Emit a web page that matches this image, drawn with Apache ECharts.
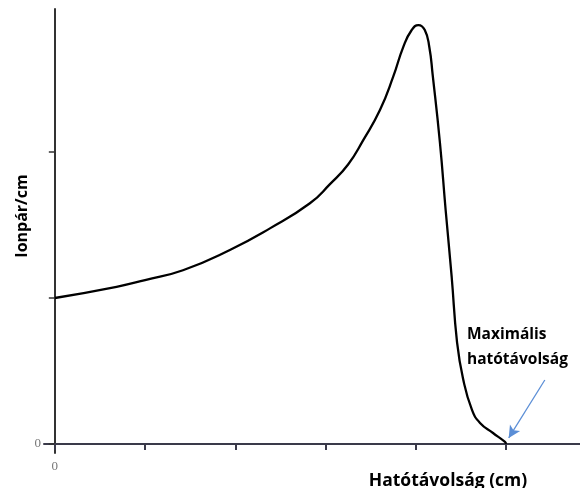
<!DOCTYPE html>
<html>
<head>
<meta charset="utf-8">
<script src="https://cdn.jsdelivr.net/npm/echarts@6/dist/echarts.min.js"></script>
<style>html,body{margin:0;padding:0;background:#fff}#c{width:580px;height:488px}</style>
</head>
<body>
<div id="c"></div>
<script>
// Bragg curve: [distance, ion pairs per cm]
const distance = [0, 0.684, 1.0, 1.42, 1.94, 2.384, 2.827, 3.049, 3.25, 3.418, 3.603, 3.75, 3.862, 3.955, 4.03, 4.10, 4.15, 4.187, 4.268, 4.331, 4.398, 4.457, 4.523, 4.623, 4.712, 4.856, 4.989, 5.0];
const ionPairs = [1.0, 1.077, 1.123, 1.19, 1.329, 1.477, 1.649, 1.78, 1.915, 2.082, 2.288, 2.516, 2.721, 2.836, 2.870, 2.836, 2.72, 2.53, 2.062, 1.603, 1.144, 0.70, 0.45, 0.233, 0.144, 0.075, 0.014, 0.0];
const xTicks = [0, 1, 2, 3, 4, 5];
const yTicks = [0, 1, 2];
const tickLabels = [0];
const arrowFrom = [5.43, 0.438];
const arrowTo = [5.03, 0.041];

const curve = distance.map((d, i) => [d, ionPairs[i]]);

const chart = echarts.init(document.getElementById('c'));
chart.setOption({
  animation: false,
  grid: { left: 44, right: 0, top: 9, bottom: 35, containLabel: false, outerBoundsMode: 'none' },
  xAxis: {
    type: 'value', min: -0.12, max: 5.82,
    name: 'Hatótávolság (cm)', nameLocation: 'middle', nameGap: 19, nameMoveOverlap: false,
    nameTextStyle: { fontFamily: 'Open Sans', fontWeight: 'bold', fontSize: 17.5, color: '#000', padding: [0, 0, 0, 272] },
    axisLine: { onZero: true, lineStyle: { color: '#3a3a4a', width: 2 } },
    axisTick: { show: true, customValues: xTicks, length: 6, inside: false, lineStyle: { color: '#3a3a4a', width: 2 } },
    axisLabel: { customValues: tickLabels, margin: 7, fontFamily: 'Liberation Serif', fontSize: 13, color: '#777' },
    splitLine: { show: false }
  },
  yAxis: {
    type: 'value', min: -0.062, max: 2.98,
    name: 'Ionpár/cm', nameLocation: 'middle', nameGap: 14, nameRotate: 90, nameMoveOverlap: false,
    nameTextStyle: { fontFamily: 'Open Sans', fontWeight: 'bold', fontSize: 16, color: '#000', padding: [0, 0, 0, 30] },
    axisLine: { onZero: true, lineStyle: { color: '#333', width: 2 } },
    axisTick: { show: true, customValues: yTicks, length: 6, lineStyle: { color: '#333', width: 1.5 } },
    axisLabel: { customValues: tickLabels, margin: 3, fontFamily: 'Liberation Serif', fontSize: 13, color: '#777' },
    splitLine: { show: false }
  },
  graphic: [{
    type: 'text', left: 467, top: 322,
    style: { text: 'Maximális\nhatótávolság', fontFamily: 'Open Sans', fontWeight: 'bold', fontSize: 15.5, lineHeight: 25, fill: '#000' }
  }],
  series: [{
    type: 'line', data: curve, smooth: 0.5, symbol: 'none',
    lineStyle: { color: '#000', width: 2.3 },
    markLine: {
      silent: true, symbol: ['none', 'arrow'], symbolSize: [9, 12],
      label: { show: false },
      lineStyle: { color: '#5b8ed6', width: 1.3, type: 'solid' },
      data: [[{ coord: arrowFrom }, { coord: arrowTo }]]
    }
  }]
});
</script>
</body>
</html>
